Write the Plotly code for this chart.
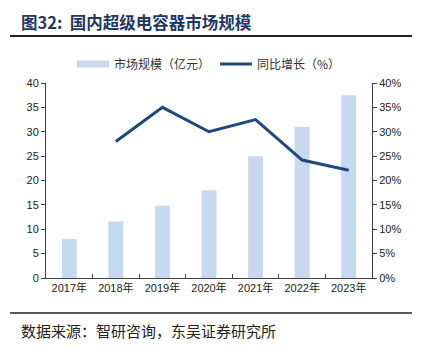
import plotly.graph_objects as go

years = ["2017年", "2018年", "2019年", "2020年", "2021年", "2022年", "2023年"]
market = [8.0, 11.6, 14.8, 18.0, 25.0, 31.0, 37.5]
growth_years = ["2018年", "2019年", "2020年", "2021年", "2022年", "2023年"]
growth = [28.0, 35.0, 30.0, 32.5, 24.2, 22.1]

num_font = "Liberation Sans, Arial, Noto Sans CJK SC"
cjk_font = "Noto Sans CJK SC"
bar_color = "#C6D9F0"

fig = go.Figure()
fig.add_trace(go.Bar(x=years, y=market, name="市场规模（亿元）", showlegend=False,
                     marker=dict(color=bar_color, line=dict(width=0)), width=0.32))
# legend-only entry with wide rectangular swatch
fig.add_trace(go.Scatter(x=[None], y=[None], name="市场规模（亿元）", mode="lines",
                         line=dict(color=bar_color, width=7)))
fig.add_trace(go.Scatter(x=growth_years, y=growth, name="同比增长（%）", yaxis="y2",
                         mode="lines", line=dict(color="#1F497D", width=3)))

W, H = 424, 354
L, R, T, B = 46, 52, 83, 76
ph = H - T - B

def py(ypix):
    return (H - B - ypix) / ph

def px(xpix):
    return (xpix - L) / (W - L - R)

fig.update_layout(
    width=W, height=H,
    margin=dict(l=L, r=R, t=T, b=B),
    paper_bgcolor="white", plot_bgcolor="white",
    showlegend=True,
    legend=dict(orientation="h", x=0.5, xanchor="center", y=py(64), yanchor="middle",
                font=dict(family=cjk_font, size=12, color="#333"), itemwidth=32,
                traceorder="normal", bgcolor="rgba(0,0,0,0)"),
    xaxis=dict(showline=True, linecolor="#404040", linewidth=1, ticks="inside",
               tickson="boundaries", ticklen=4, tickcolor="#404040",
               tickfont=dict(family=num_font, size=11, color="#222"), showgrid=False),
    yaxis=dict(range=[0, 40], dtick=5, showline=True, linecolor="#404040", linewidth=1,
               ticks="outside", ticklen=4, tickcolor="#404040", showgrid=False, zeroline=False,
               tickfont=dict(family=num_font, size=11, color="#222")),
    yaxis2=dict(range=[0, 40], dtick=5, overlaying="y", side="right", showline=True,
                linecolor="#404040", linewidth=1, ticks="outside", ticklen=4, tickcolor="#404040",
                ticksuffix="%", showgrid=False, zeroline=False,
                tickfont=dict(family=num_font, size=11, color="#222")),
    bargap=0.68,
)

fig.add_annotation(text="<b>图32:  国内超级电容器市场规模</b>", xref="paper", yref="paper",
                   x=px(19), xanchor="left", y=py(22), yanchor="middle",
                   showarrow=False, font=dict(family=cjk_font, size=16.5, color="#1F3864"))
fig.add_annotation(text="数据来源：智研咨询，东吴证券研究所", xref="paper", yref="paper",
                   x=px(19), xanchor="left", y=py(330), yanchor="middle",
                   showarrow=False, font=dict(family=cjk_font, size=15, color="#222"))

fig.add_shape(type="line", xref="paper", yref="paper", x0=px(10), x1=px(412), y0=py(36), y1=py(36),
              line=dict(color="#222", width=2))
fig.add_shape(type="line", xref="paper", yref="paper", x0=px(10), x1=px(412), y0=py(313), y1=py(313),
              line=dict(color="#222", width=1.5))

fig.write_html("out.html")
